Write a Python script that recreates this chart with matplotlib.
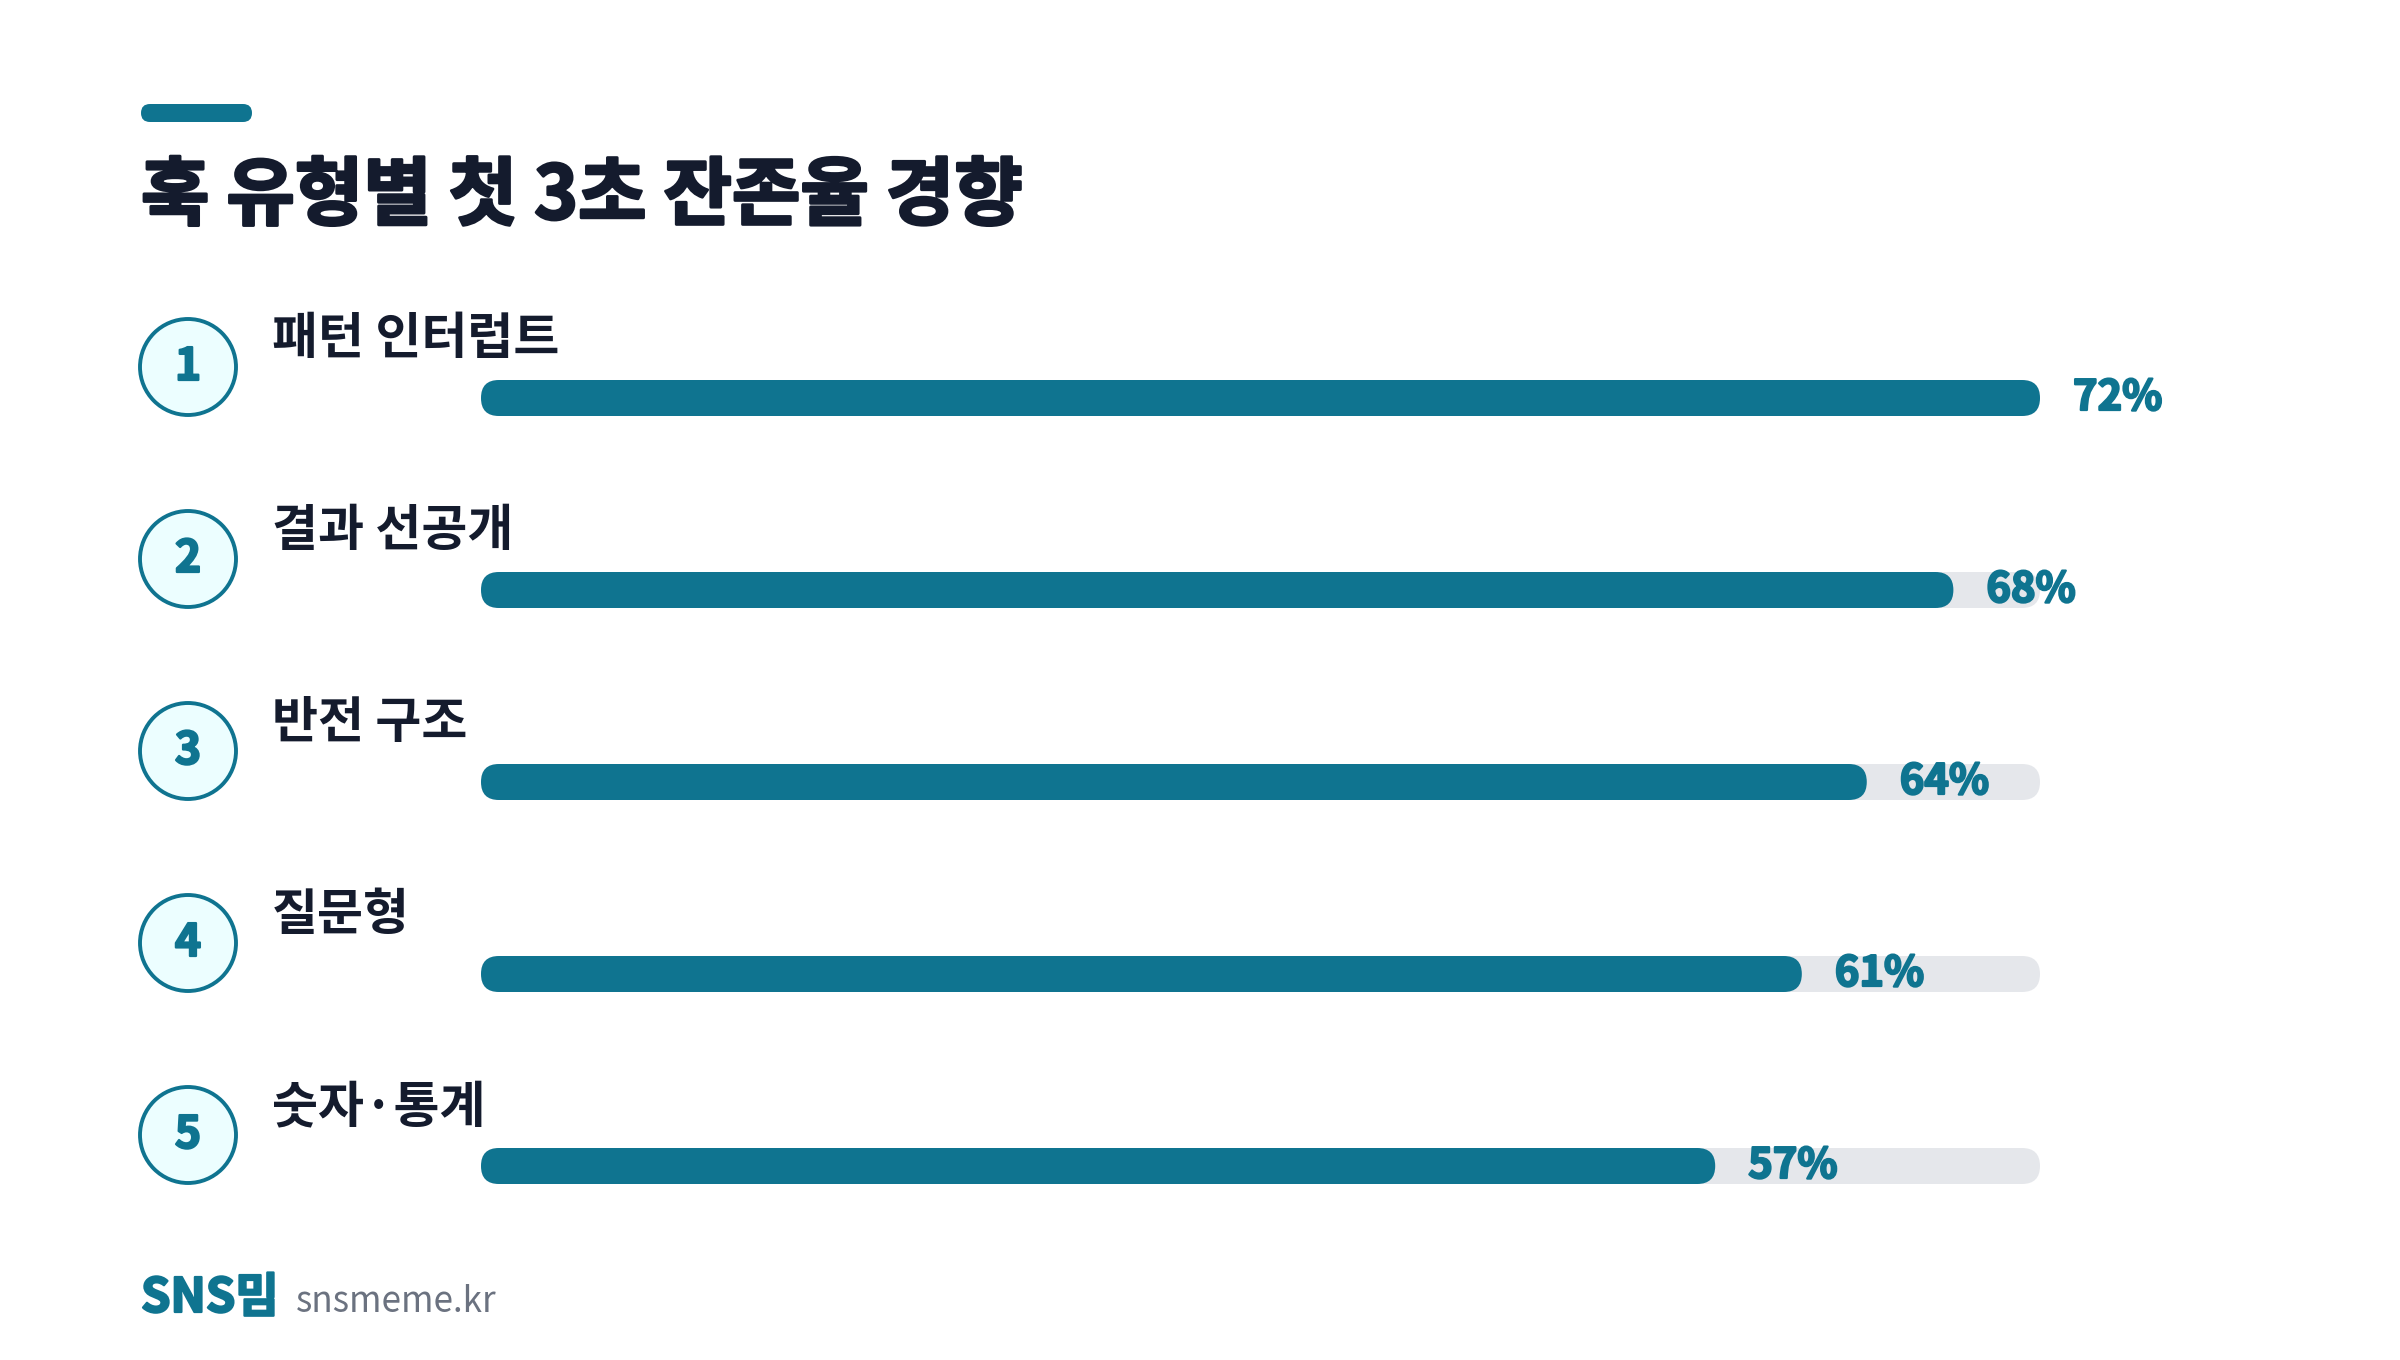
import matplotlib
matplotlib.use("Agg")
import matplotlib.pyplot as plt
import matplotlib.patheffects as pe
from matplotlib.patches import FancyBboxPatch, Circle

plt.rcParams['font.family'] = ['Noto Sans CJK KR', 'DejaVu Sans']

# data
title = "훅 유형별 첫 3초 잔존율 경향"
categories = ["패턴 인터럽트", "결과 선공개", "반전 구조", "질문형", "숫자·통계"]
values = [72, 68, 64, 61, 57]
ranks = ["1", "2", "3", "4", "5"]

TEAL = "#0F7490"
DARK = "#141B2D"
TRACK = "#E5E7EB"
CFILL = "#ECFEFF"

W, H = 2400, 1360
fig = plt.figure(figsize=(12, 6.8), dpi=200)
ax = fig.add_axes([0, 0, 1, 1])
ax.set_xlim(0, W)
ax.set_ylim(H, 0)
ax.axis("off")

# layout (pixels)
X0, X1 = 481, 2040
BAR_H = 36
Y_FIRST, STEP = 398, 192
vmax = max(values)


def xpos(v):
    return X0 + v / vmax * (X1 - X0)


def heavy(color, w=1.0):
    return [pe.withStroke(linewidth=w, foreground=color)]


# accent pill
ax.add_patch(FancyBboxPatch((141, 104), 111, 18, boxstyle="round,pad=0,rounding_size=9",
                            fc=TEAL, ec="none"))
ax.text(141, 219, title, fontsize=26.8, fontweight="black", color=DARK, va="baseline",
        ha="left", path_effects=heavy(DARK, 1.0))

for i, (cat, v, r) in enumerate(zip(categories, values, ranks)):
    yc = Y_FIRST + i * STEP
    # track
    ax.add_patch(FancyBboxPatch((X0, yc - BAR_H / 2), X1 - X0, BAR_H,
                                boxstyle="round,pad=0,rounding_size=18", fc=TRACK, ec="none"))
    # value bar
    ax.add_patch(FancyBboxPatch((X0, yc - BAR_H / 2), xpos(v) - X0, BAR_H,
                                boxstyle="round,pad=0,rounding_size=18", fc=TEAL, ec="none"))
    ax.text(xpos(v) + 33, yc, f"{v}%", fontsize=15, fontweight="bold", color=TEAL,
            va="center", ha="left", path_effects=heavy(TEAL, 0.8))
    # rank circle
    ax.add_patch(Circle((188, yc - 31), 48, fc=CFILL, ec=TEAL, lw=1.4))
    ax.text(188, yc - 31, r, fontsize=16, fontweight="bold", color=TEAL, va="center",
            ha="center", path_effects=heavy(TEAL, 0.8))
    # category label
    ax.text(272, yc - 44, cat, fontsize=18, fontweight="bold", color=DARK, va="baseline",
            ha="left")

# footer
ax.text(141, 1312, "SNS밈", fontsize=17, fontweight="black", color=TEAL, va="baseline",
        ha="left", path_effects=heavy(TEAL, 0.8))
ax.text(296, 1312, "snsmeme.kr", fontsize=12.6, color="#6B7280", va="baseline", ha="left")

fig.savefig("out.png", dpi=200, facecolor="white")
